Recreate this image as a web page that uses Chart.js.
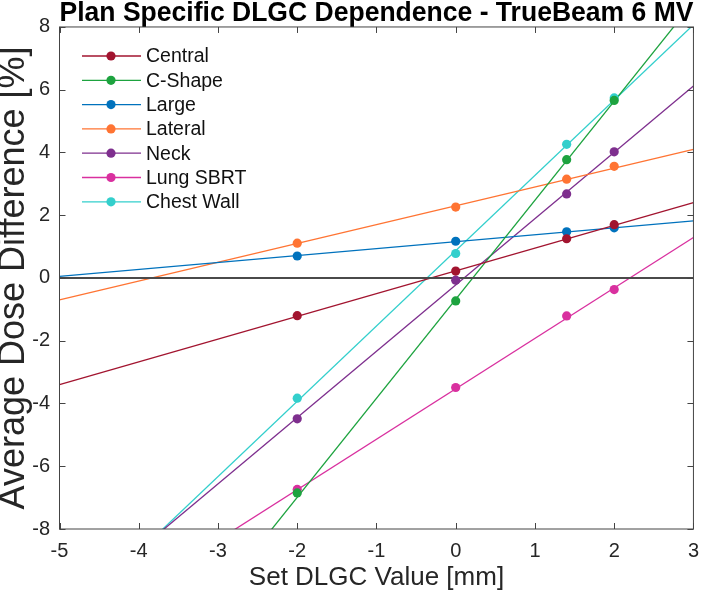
<!DOCTYPE html>
<html>
<head>
<meta charset="utf-8">
<title>Plan Specific DLGC Dependence</title>
<script src="https://cdn.jsdelivr.net/npm/chart.js@4.4.1/dist/chart.umd.min.js"></script>
<style>
  html, body { margin: 0; padding: 0; background: #fff; }
  #wrap { width: 709px; height: 596px; }
</style>
</head>
<body>
<div id="wrap"><canvas id="dlgcChart"></canvas></div>
<script>
// measured DLGC settings (mm)
const dlgcValues = [-2, 0, 1.4, 2];

const seriesNames = ['Central', 'C-Shape', 'Large', 'Lateral', 'Neck', 'Lung SBRT', 'Chest Wall'];

// average dose difference (%) at each DLGC value
const central   = [-1.20, 0.22, 1.25, 1.70];
const cShape    = [-6.85, -0.73, 3.77, 5.66];
const large     = [0.70, 1.17, 1.47, 1.60];
const lateral   = [1.11, 2.26, 3.15, 3.56];
const neck      = [-4.49, -0.07, 2.68, 4.02];
const lungSbrt  = [-6.74, -3.49, -1.21, -0.37];
const chestWall = [-3.83, 0.78, 4.26, 5.74];
const seriesValues = [central, cShape, large, lateral, neck, lungSbrt, chestWall];

// linear fit lines, read at the ends of the x axis
const fitX = [-5, 3];
const fitAtLeft  = [-3.40, -16.46, 0.05, -0.70, -10.79, -11.57, -11.13];
const fitAtRight = [2.40, 8.79, 1.82, 4.10, 6.12, 1.29, 8.07];

const zeroLine = [0, 0];

const seriesColors = ['#A2142F', '#1DA33F', '#0072BD', '#FF7433', '#7E2F8E', '#D9309F', '#33CFCC'];

const FONT = "'Liberation Sans', Arial, Helvetica, sans-serif";

const pointSets = seriesNames.map((name, i) => ({
  type: 'scatter',
  label: name,
  data: dlgcValues.map((x, j) => ({ x: x, y: seriesValues[i][j] })),
  pointRadius: 4.6,
  pointHoverRadius: 4.6,
  pointBorderWidth: 0,
  pointBackgroundColor: seriesColors[i],
  showLine: false
}));

const zeroSet = {
  type: 'line',
  label: 'zero',
  data: fitX.map((x, j) => ({ x: x, y: zeroLine[j] })),
  borderColor: '#4a4a4a',
  borderWidth: 2,
  pointRadius: 0
};

const fitSets = seriesNames.map((name, i) => ({
  type: 'line',
  label: name + ' fit',
  data: [{ x: fitX[0], y: fitAtLeft[i] }, { x: fitX[1], y: fitAtRight[i] }],
  borderColor: seriesColors[i],
  borderWidth: 1.3,
  pointRadius: 0
}));

// box, inward ticks and the in-axes legend, matlab style
const matlabAxes = {
  id: 'matlabAxes',
  afterDatasetsDraw(chart) {
    const { ctx, chartArea: a, scales } = chart;
    const tick = 6;
    ctx.save();
    ctx.strokeStyle = '#444';
    ctx.lineWidth = 1;
    ctx.strokeRect(a.left, a.top, a.right - a.left, a.bottom - a.top);
    ctx.beginPath();
    scales.x.ticks.forEach(t => {
      const px = Math.round(scales.x.getPixelForValue(t.value)) + 0.5;
      ctx.moveTo(px, a.bottom); ctx.lineTo(px, a.bottom - tick);
      ctx.moveTo(px, a.top); ctx.lineTo(px, a.top + tick);
    });
    scales.y.ticks.forEach(t => {
      const py = Math.round(scales.y.getPixelForValue(t.value)) + 0.5;
      ctx.moveTo(a.left, py); ctx.lineTo(a.left + tick, py);
      ctx.moveTo(a.right, py); ctx.lineTo(a.right - tick, py);
    });
    ctx.stroke();

    // legend
    ctx.font = '19.5px ' + FONT;
    ctx.textBaseline = 'middle';
    ctx.textAlign = 'left';
    seriesNames.forEach((name, i) => {
      const y = 56 + i * 24.3;
      ctx.strokeStyle = seriesColors[i];
      ctx.lineWidth = 1.3;
      ctx.beginPath();
      ctx.moveTo(82, y); ctx.lineTo(141, y);
      ctx.stroke();
      ctx.fillStyle = seriesColors[i];
      ctx.beginPath();
      ctx.arc(111, y, 4.6, 0, Math.PI * 2);
      ctx.fill();
      ctx.fillStyle = '#111';
      ctx.fillText(name, 146, y + 1);
    });
    ctx.restore();
  }
};

new Chart(document.getElementById('dlgcChart'), {
  data: { datasets: [...pointSets, zeroSet, ...fitSets] },
  options: {
    responsive: true,
    maintainAspectRatio: false,
    animation: false,
    devicePixelRatio: 1,
    layout: { padding: { left: 0, right: 10, top: 0, bottom: 0 } },
    plugins: {
      legend: { display: false },
      tooltip: { enabled: false },
      title: {
        display: true,
        fullSize: false,
        text: 'Plan Specific DLGC Dependence - TrueBeam 6 MV',
        color: '#000',
        font: { family: FONT, size: 27.8, weight: 'bold', lineHeight: 0.97 },
        padding: { top: 0, bottom: 0 }
      }
    },
    scales: {
      x: {
        type: 'linear',
        min: -5,
        max: 3,
        ticks: { stepSize: 1, color: '#262626', font: { family: FONT, size: 20 }, padding: 10 },
        grid: { display: false, drawTicks: false },
        border: { display: false },
        title: {
          display: true,
          text: 'Set DLGC Value [mm]',
          color: '#262626',
          font: { family: FONT, size: 26, lineHeight: 1.2 },
          padding: { top: 0, bottom: 3 }
        },
        afterFit(s) { s.height = 67; }
      },
      y: {
        type: 'linear',
        min: -8,
        max: 8,
        ticks: { stepSize: 2, color: '#262626', font: { family: FONT, size: 20 }, padding: 9.5 },
        grid: { display: false, drawTicks: false },
        border: { display: false },
        title: {
          display: true,
          text: 'Average Dose Difference [%]',
          color: '#262626',
          font: { family: FONT, size: 36, lineHeight: 0.8 },
          padding: { top: 0, bottom: 0 }
        },
        afterFit(s) { s.width = 59.5; }
      }
    }
  },
  plugins: [matlabAxes]
});
</script>
</body>
</html>
